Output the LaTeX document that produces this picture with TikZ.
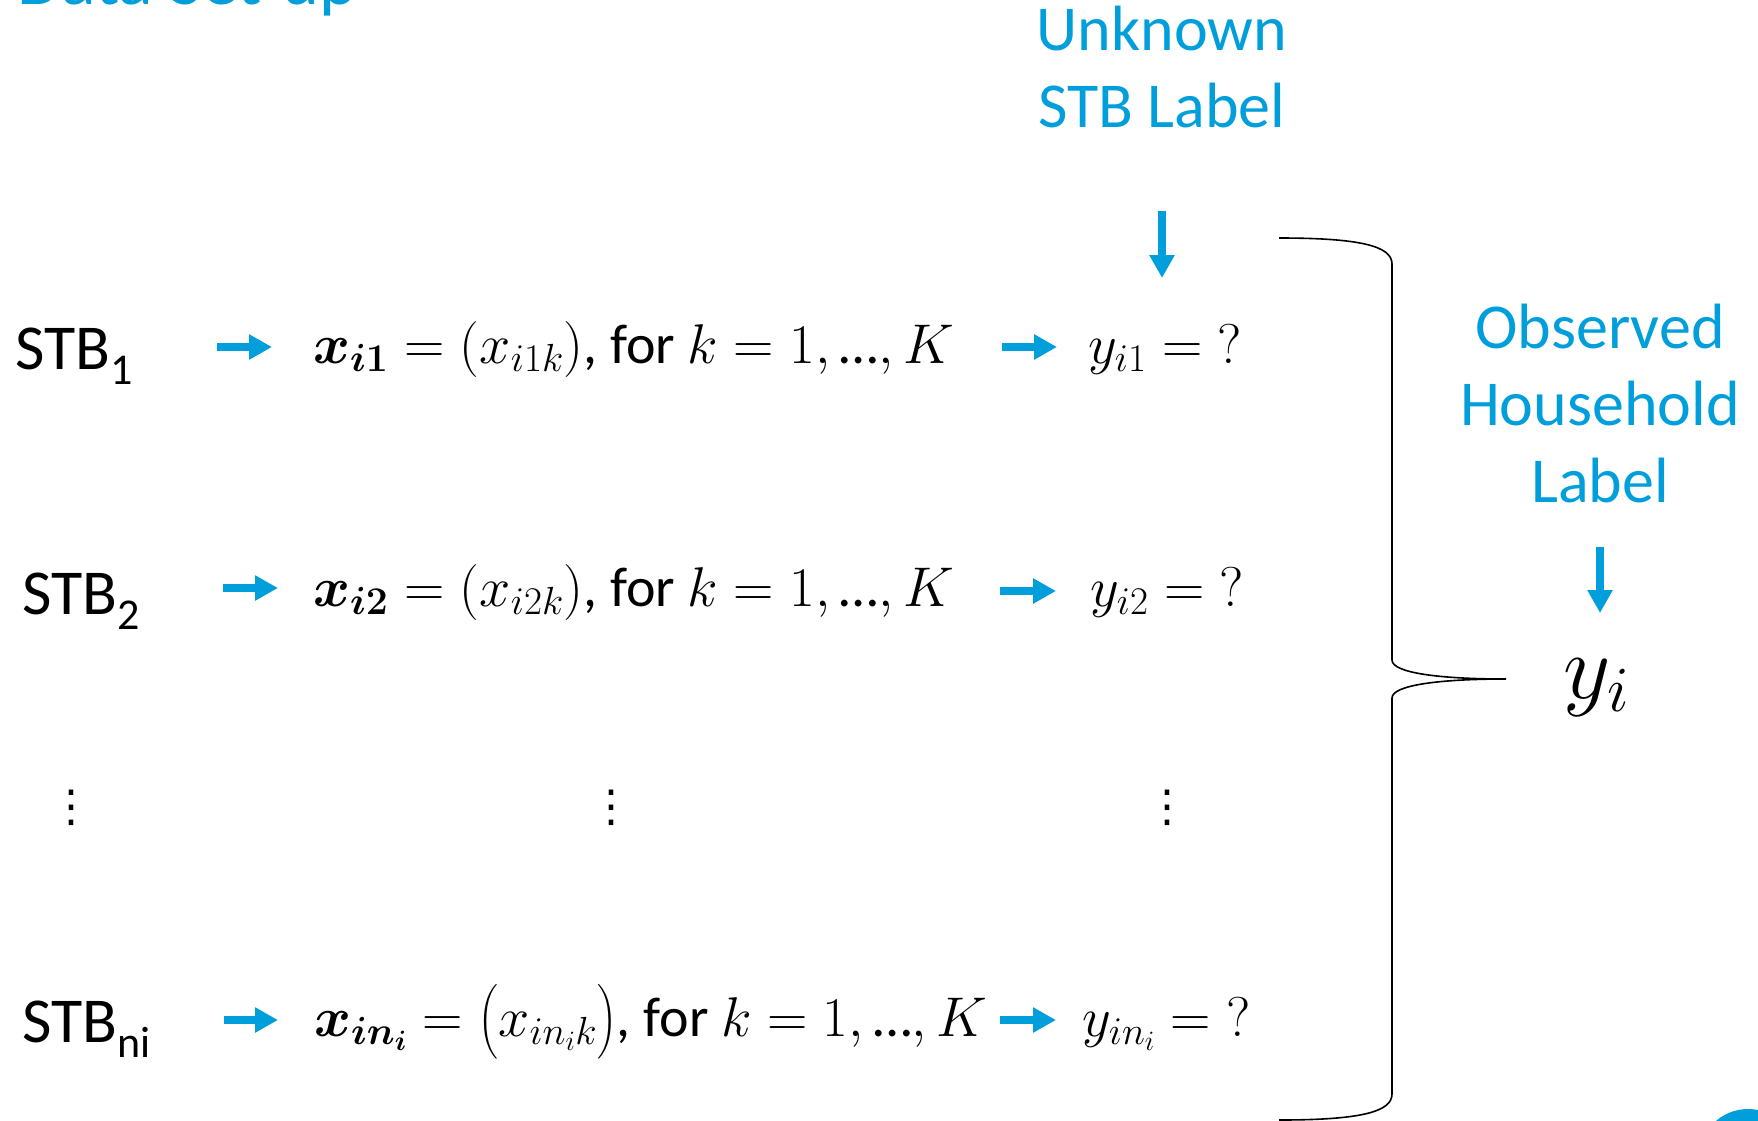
\RequirePackage{fix-cm}
\documentclass[tikz,border=0pt]{standalone}
\usepackage{amsmath}
\usepackage{bm}
\usepackage[no-math]{fontspec}
\setmainfont{Carlito}
\newfontfamily\dejavu{DejaVu Sans}
\usetikzlibrary{arrows.meta}
\definecolor{skyblue}{HTML}{009FDB}
\newcommand{\myell}{{\text{\textellipsis}}}
\begin{document}
\begin{tikzpicture}[x=1pt,y=-1pt,
  lbl/.style={inner sep=0pt, anchor=base west, font=\fontsize{64}{77}\selectfont},
  bluelbl/.style={inner sep=0pt, anchor=base, text=skyblue, font=\fontsize{64}{77}\selectfont},
  mathrow/.style={inner sep=0pt, anchor=base west, font=\fontsize{56}{60}\selectfont},
  dotsnode/.style={inner sep=0pt, font=\dejavu\fontsize{44}{44}\selectfont},
  blarrow/.style={draw=skyblue, line width=8pt, -{Triangle[length=23pt,width=24pt]}},
  bracepath/.style={draw=black, line width=1.6pt}]
\useasboundingbox (0,0) rectangle (1758,1120);
\clip (0,0) rectangle (1758,1120);

% title (cut off at top)
\node[inner sep=0pt, anchor=base west, text=skyblue, font=\fontsize{72}{80}\selectfont] (title) at (17,4) {Data Set-up};

% top label
\node[bluelbl] (unk1) at (1162,50) {Unknown};
\node[bluelbl] (unk2) at (1162,127) {STB Label};
\coordinate (ua) at (1162,211);
\coordinate (ub) at (1162,278);
\draw[blarrow] (ua) -- (ub);

% right label
\node[bluelbl] (obs1) at (1600,348) {Observed};
\node[bluelbl] (obs2) at (1600,425) {Household};
\node[bluelbl] (obs3) at (1600,502) {Label};
\coordinate (oa) at (1600,547);
\coordinate (ob) at (1600,613);
\draw[blarrow] (oa) -- (ob);
\node[inner sep=0pt, anchor=base west, font=\fontsize{92}{92}\selectfont] (yi) at (1563,698) {$y_i$};

% row 1
\node[lbl] (s1) at (15,369) {STB\raisebox{-15pt}{\fontsize{44}{44}\selectfont 1}};
\coordinate (l1a) at (217,347);
\coordinate (l1b) at (272,347);
\draw[blarrow] (l1a) -- (l1b);
\node[mathrow] (x1) at (313,363) {$\bm{x_{i1}} = (x_{i1k})$, for $k = 1, \myell, K$};
\coordinate (r1a) at (1002,347);
\coordinate (r1b) at (1057,347);
\draw[blarrow] (r1a) -- (r1b);
\node[mathrow] (y1) at (1088,363) {$y_{i1} = {?}$};

% row 2
\node[lbl] (s2) at (22,614) {STB\raisebox{-15pt}{\fontsize{44}{44}\selectfont 2}};
\coordinate (l2a) at (223,588);
\coordinate (l2b) at (278,588);
\draw[blarrow] (l2a) -- (l2b);
\node[mathrow] (x2) at (313,606) {$\bm{x_{i2}} = (x_{i2k})$, for $k = 1, \myell, K$};
\coordinate (r2a) at (1000,591);
\coordinate (r2b) at (1056,591);
\draw[blarrow] (r2a) -- (r2b);
\node[mathrow] (y2) at (1090,606) {$y_{i2} = {?}$};

% dots
\node[dotsnode] (d1) at (71,808) {⋮};
\node[dotsnode] (d2) at (611,808) {⋮};
\node[dotsnode] (d3) at (1167,808) {⋮};

% row n
\node[lbl] (sn) at (22,1042) {STB\raisebox{-15pt}{\fontsize{44}{44}\selectfont ni}};
\coordinate (lna) at (224,1020);
\coordinate (lnb) at (278,1020);
\draw[blarrow] (lna) -- (lnb);
\node[mathrow] (xn) at (314,1036) {$\bm{x_{in_i}} = \bigl(x_{in_ik}\bigr)$, for $k = 1, \myell, K$};
\coordinate (rna) at (1000,1020);
\coordinate (rnb) at (1056,1020);
\draw[blarrow] (rna) -- (rnb);
\node[mathrow] (yn) at (1082,1036) {$y_{in_i} = {?}$};

% brace
\coordinate (bt) at (1279,238);
\coordinate (tip) at (1506,679);
\coordinate (bb) at (1279,1120);
\draw[bracepath] (bt) .. controls (1360,238) and (1392,246) .. (1392,264)
  -- (1392,660) .. controls (1392,673) and (1440,679) .. (tip)
  .. controls (1440,679) and (1392,685) .. (1392,698)
  -- (1392,1094) .. controls (1392,1112) and (1360,1120) .. (bb);

% page badge
\fill[skyblue] (1748,1158) circle[radius=49];
\end{tikzpicture}
\end{document}
